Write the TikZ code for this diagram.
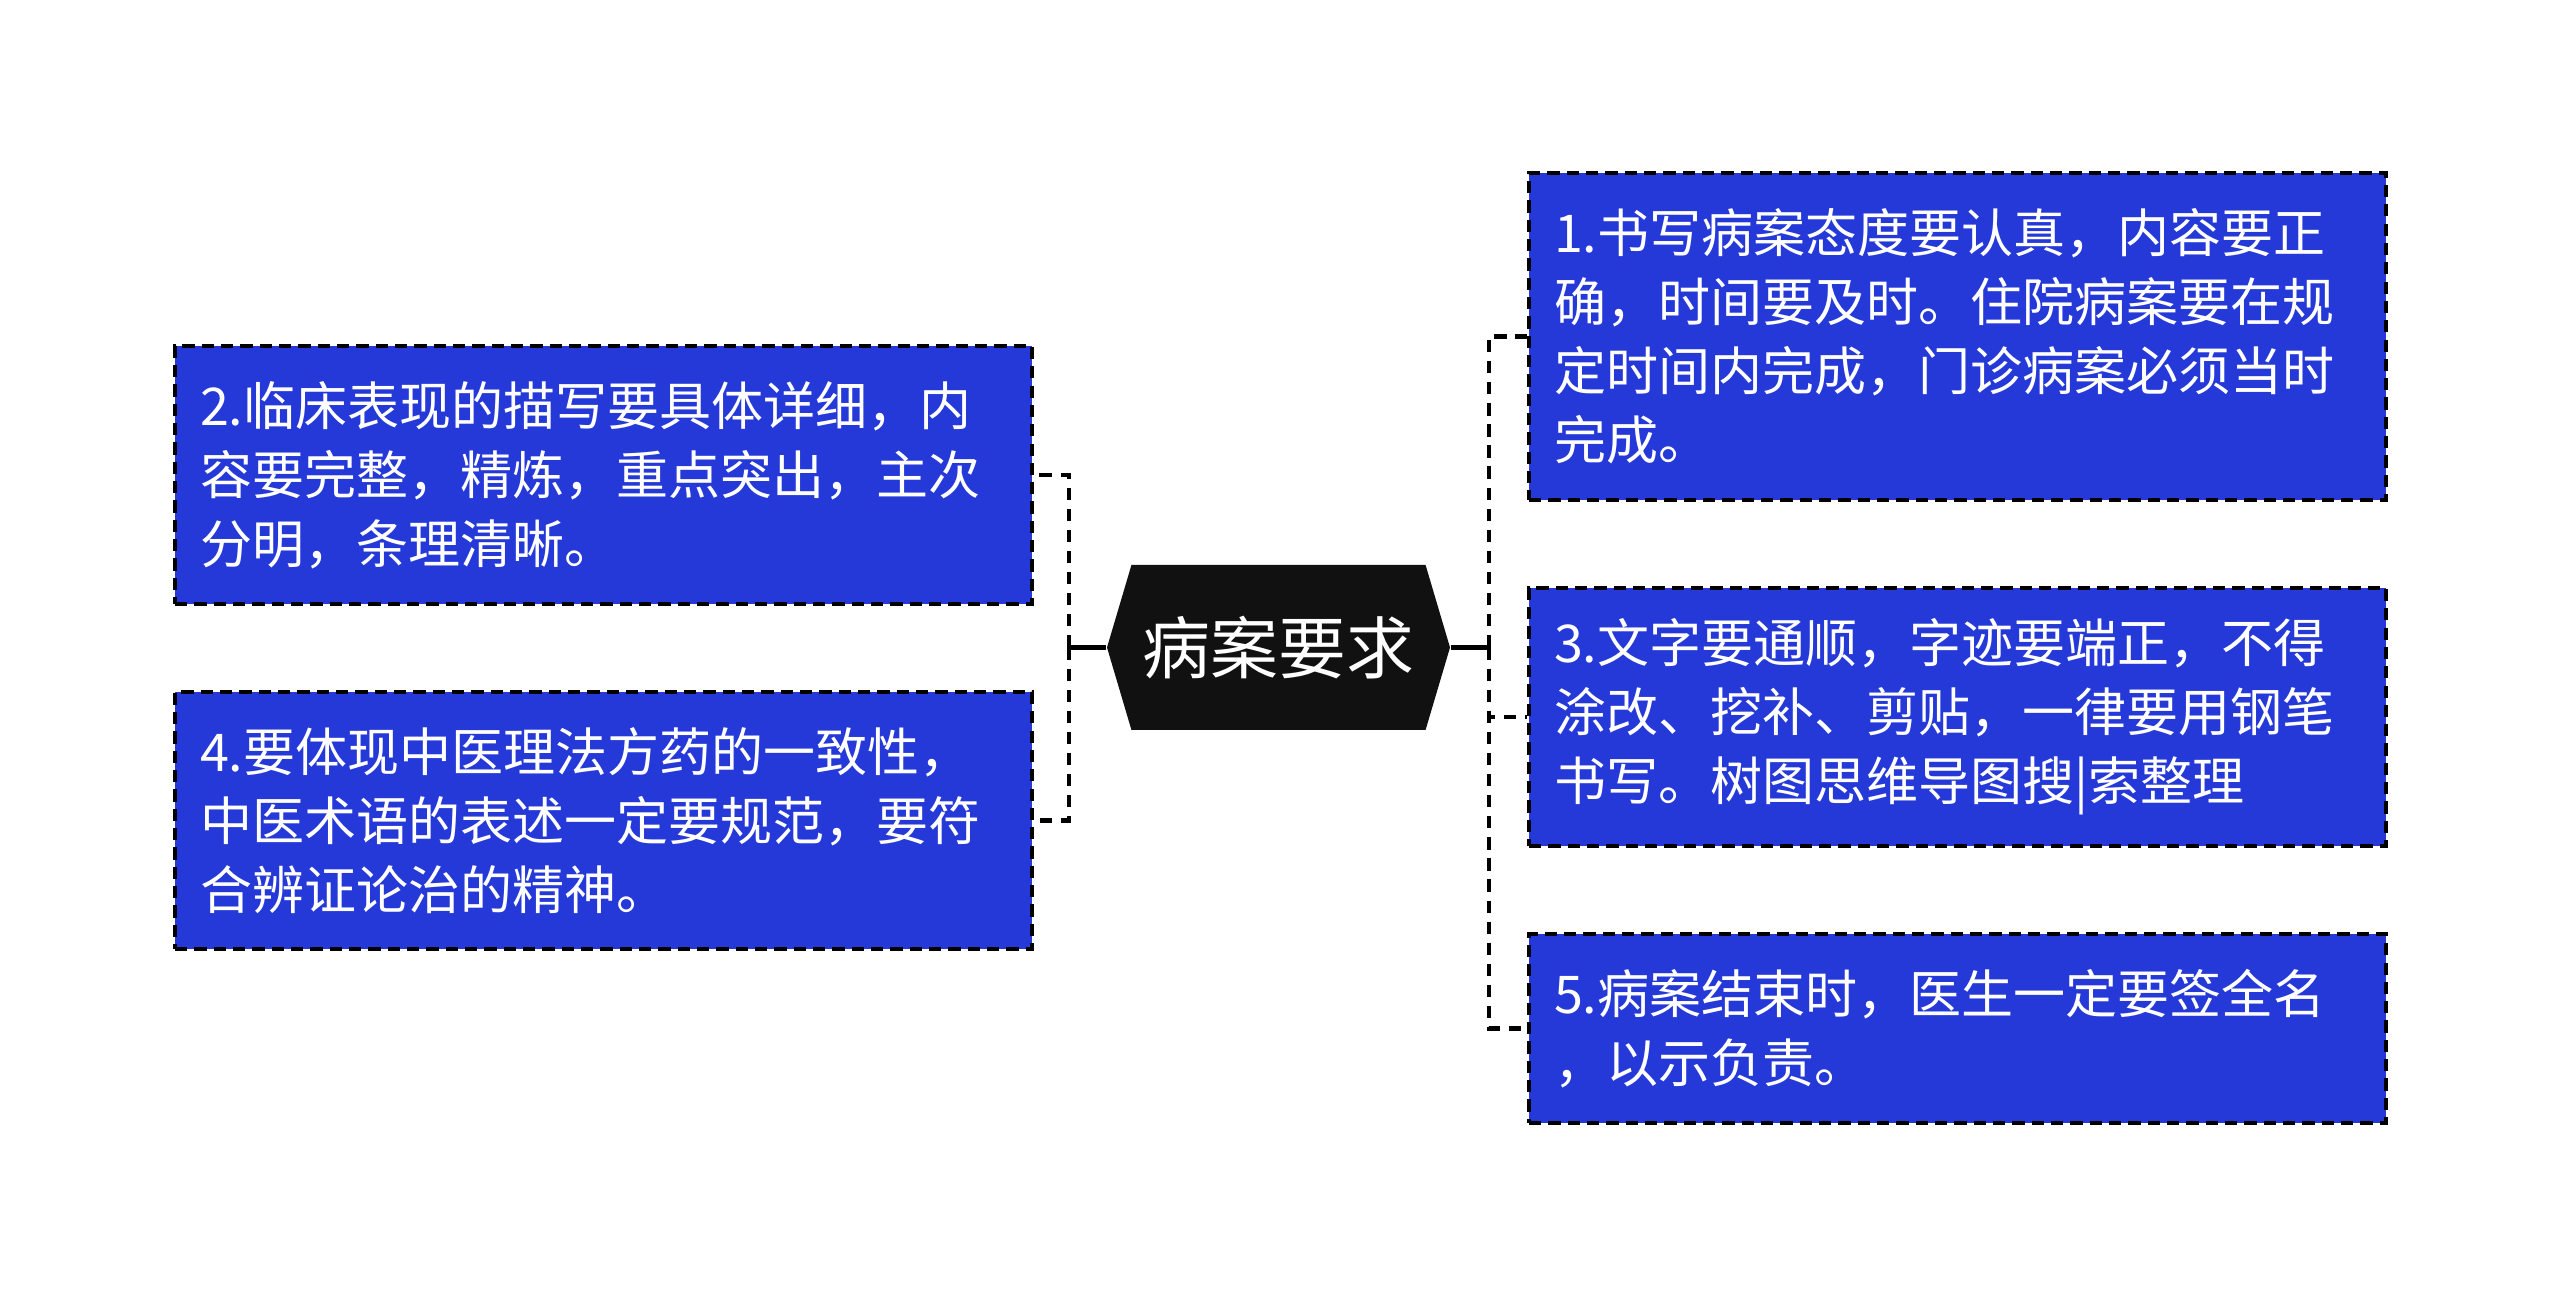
\documentclass[tikz,border=0pt]{standalone}
\usepackage{fontspec}
\setmainfont{Noto Sans CJK SC}
\usepackage{xcolor}
\usepackage{tikz}
\usetikzlibrary{shapes.symbols, positioning}

\definecolor{itemblue}{HTML}{2539D9}
\definecolor{rootblack}{HTML}{111111}

\begin{document}
\begin{tikzpicture}[
    item/.style={draw=black, line width=1pt, dash pattern=on 3.5pt off 2pt,
      fill=itemblue, text=white, align=left, text width=8.07cm,
      inner xsep=0.25cm, inner ysep=0pt,
      font=\fontsize{14.8}{19.6}\selectfont},
    root/.style={shape=signal, signal to=east and west, signal pointer angle=147,
      fill=rootblack, text=white, inner sep=0pt,
      minimum width=3.43cm, minimum height=1.65cm,
      font=\fontsize{19.3}{23}\selectfont},
    link/.style={line width=1.3pt, dash pattern=on 3.5pt off 2.5pt}
  ]
  \useasboundingbox (0,0) rectangle (25.6,12.97);

  \node[root] (rule) at (12.785,6.495) {病案要求};

  \node[item, minimum height=3.27cm] (b1) at (19.575,9.605)
    {1.书写病案态度要认真，内容要正\\确，时间要及时。住院病案要在规\\定时间内完成，门诊病案必须当时\\完成。};
  \node[item, minimum height=2.58cm] (b3) at (19.575,5.80)
    {3.文字要通顺，字迹要端正，不得\\涂改、挖补、剪贴，一律要用钢笔\\书写。树图思维导图搜|索整理};
  \node[item, minimum height=1.89cm] (b5) at (19.575,2.685)
    {5.病案结束时，医生一定要签全名\\，以示负责。};

  \node[item, minimum height=2.58cm] (b2) at (6.035,8.22)
    {2.临床表现的描写要具体详细，内\\容要完整，精炼，重点突出，主次\\分明，条理清晰。};
  \node[item, minimum height=2.57cm] (b4) at (6.035,4.765)
    {4.要体现中医理法方药的一致性，\\中医术语的表述一定要规范，要符\\合辨证论治的精神。};

  \coordinate (jl) at (10.69,6.495);
  \coordinate (jr) at (14.89,6.495);

  \draw[line width=1.4pt] (rule.west) -- (jl);
  \draw[line width=1.4pt] (rule.east) -- (jr);

  \draw[link] (jl) |- (b2.east);
  \draw[link] (jl) |- (b4.east);
  \draw[link] (jr) |- (b1.west);
  \draw[link] (jr) |- (b3.west);
  \draw[link] (jr) |- (b5.west);

\end{tikzpicture}
\end{document}
